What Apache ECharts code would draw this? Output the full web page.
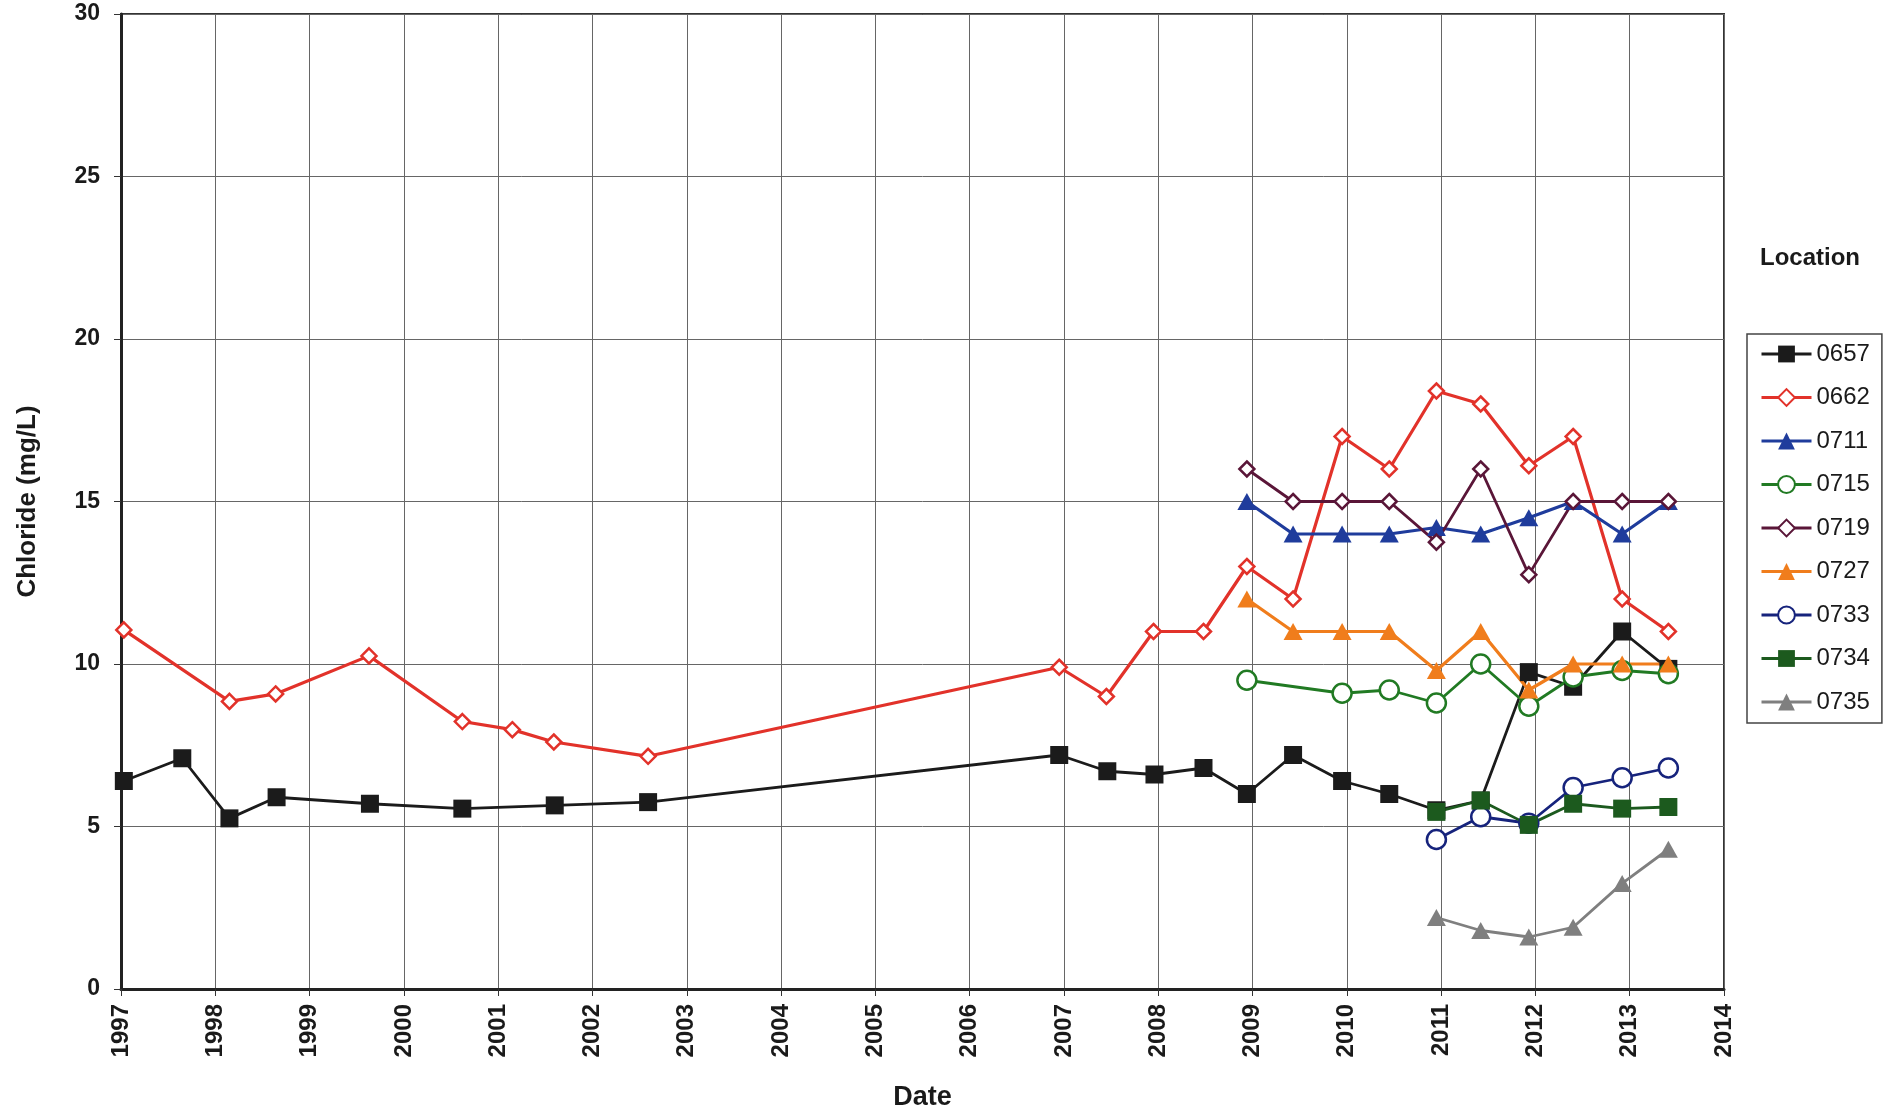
<!DOCTYPE html>
<html>
<head>
<meta charset="utf-8">
<script src="https://cdn.jsdelivr.net/npm/echarts@6/dist/echarts.min.js"></script>
<style>
html,body{margin:0;padding:0;background:#fff;}
#chart{width:1893px;height:1116px;}
</style>
</head>
<body>
<div id="chart"></div>
<script>
// ---- Data (decimal years, chloride mg/L) ----
const yTicks = [0, 5, 10, 15, 20, 25, 30];
const xYears = [1997,1998,1999,2000,2001,2002,2003,2004,2005,2006,2007,2008,2009,2010,2011,2012,2013,2014];

const dates0657 = [1997.03,1997.65,1998.15,1998.65,1999.64,2000.62,2001.60,2002.59,2006.95,2007.46,2007.96,2008.48,2008.94,2009.43,2009.95,2010.45,2010.95,2011.42,2011.93,2012.40,2012.92,2013.41];
const vals0657  = [6.4,7.1,5.25,5.9,5.7,5.55,5.65,5.75,7.2,6.7,6.6,6.8,6.0,7.2,6.4,6.0,5.5,5.8,9.75,9.3,11.0,9.85];

const dates0662 = [1997.03,1998.15,1998.64,1999.63,2000.62,2001.15,2001.59,2002.59,2006.95,2007.45,2007.95,2008.48,2008.94,2009.43,2009.95,2010.45,2010.95,2011.42,2011.93,2012.40,2012.92,2013.41];
const vals0662  = [11.05,8.85,9.08,10.25,8.23,7.98,7.6,7.16,9.9,9.0,11.0,11.0,13.0,12.0,17.0,16.0,18.4,18.0,16.1,17.0,12.0,11.0];

const datesLate = [2008.94,2009.43,2009.95,2010.45,2010.95,2011.42,2011.93,2012.40,2012.92,2013.41];
const vals0711  = [15,14,14,14,14.2,14,14.5,15,14,15];
const vals0719  = [16,15,15,15,13.75,16,12.75,15,15,15];
const vals0727  = [12,11,11,11,9.8,11,9.2,10,10,10];

const dates0715 = [2008.94,2009.95,2010.45,2010.95,2011.42,2011.93,2012.40,2012.92,2013.41];
const vals0715  = [9.5,9.1,9.2,8.8,10.0,8.7,9.6,9.8,9.7];

const datesRecent = [2010.95,2011.42,2011.93,2012.40,2012.92,2013.41];
const vals0733  = [4.6,5.3,5.1,6.2,6.5,6.8];
const vals0734  = [5.45,5.8,5.05,5.7,5.55,5.6];
const vals0735  = [2.2,1.8,1.6,1.9,3.25,4.3];

const seriesNames = ['0657','0662','0711','0715','0719','0727','0733','0734','0735'];

// ---- Styling ----
const FONT = 'Liberation Sans, Arial, Helvetica, sans-serif';
const styles = {
  '0657': {dates: dates0657, vals: vals0657, color:'#1b1b1b', symbol:'rect', size:18, hollow:false, lw:2.8},
  '0662': {dates: dates0662, vals: vals0662, color:'#e2322a', symbol:'diamond', size:15, hollow:true, lw:3.2},
  '0711': {dates: datesLate, vals: vals0711, color:'#1f3c9c', symbol:'triangle', size:[19,17], hollow:false, lw:3.2},
  '0715': {dates: dates0715, vals: vals0715, color:'#217a23', symbol:'circle', size:19, hollow:true, lw:2.8},
  '0719': {dates: datesLate, vals: vals0719, color:'#5a1638', symbol:'diamond', size:15, hollow:true, lw:2.8},
  '0727': {dates: datesLate, vals: vals0727, color:'#f07d1c', symbol:'triangle', size:[19,17], hollow:false, lw:3.2},
  '0733': {dates: datesRecent, vals: vals0733, color:'#16237c', symbol:'circle', size:19, hollow:true, lw:2.8},
  '0734': {dates: datesRecent, vals: vals0734, color:'#1c5a1e', symbol:'rect', size:18, hollow:false, lw:2.8},
  '0735': {dates: datesRecent, vals: vals0735, color:'#7f7f7f', symbol:'triangle', size:[19,17], hollow:false, lw:2.8}
};

const series = seriesNames.map(name => {
  const s = styles[name];
  return {
    name: name,
    type: 'line',
    data: s.dates.map((d, i) => [d, s.vals[i]]),
    symbol: s.symbol,
    symbolSize: s.size,
    showAllSymbol: true,
    lineStyle: {color: s.color, width: s.lw},
    itemStyle: s.hollow
      ? {color: '#ffffff', borderColor: s.color, borderWidth: 2.5}
      : {color: s.color, borderColor: s.color, borderWidth: 0},
    emphasis: {disabled: true},
    z: 2
  };
});

const chart = echarts.init(document.getElementById('chart'), null, {renderer: 'canvas'});
chart.setOption({
  animation: false,
  backgroundColor: '#ffffff',
  textStyle: {fontFamily: FONT},
  title: {
    text: 'Location',
    left: 1760,
    top: 246,
    padding: 0,
    textStyle: {fontFamily: FONT, fontSize: 24, fontWeight: 'bold', color: '#1a1a1a'}
  },
  grid: {
    left: 121, right: 169, top: 14, bottom: 125,
    show: true, borderColor: '#333', borderWidth: 2, backgroundColor: 'transparent'
  },
  legend: {
    data: seriesNames,
    orient: 'vertical',
    left: 1747,
    top: 334,
    padding: [8, 12, 9, 13],
    itemWidth: 50,
    itemHeight: 21,
    itemGap: 19.5,
    borderColor: '#444',
    borderWidth: 1.5,
    lineStyle: {width: 3},
    textStyle: {fontFamily: FONT, fontSize: 24, color: '#1a1a1a', lineHeight: 24}
  },
  xAxis: {
    type: 'value',
    min: xYears[0],
    max: xYears[xYears.length - 1],
    interval: 1,
    name: 'Date',
    nameLocation: 'middle',
    nameGap: 95,
    nameTextStyle: {fontFamily: FONT, fontSize: 27, fontWeight: 'bold', color: '#1a1a1a'},
    axisLine: {show: true, onZero: false, lineStyle: {color: '#222', width: 3}},
    axisTick: {show: true, length: 7, lineStyle: {color: '#333', width: 1}},
    axisLabel: {
      rotate: 90, margin: 15, fontFamily: FONT, fontSize: 24, fontWeight: 'bold', color: '#1a1a1a',
      formatter: v => String(Math.round(v))
    },
    splitLine: {show: true, lineStyle: {color: '#666', width: 1}}
  },
  yAxis: {
    type: 'value',
    min: yTicks[0],
    max: yTicks[yTicks.length - 1],
    interval: 5,
    name: 'Chloride (mg/L)',
    nameLocation: 'middle',
    nameGap: 80,
    nameTextStyle: {fontFamily: FONT, fontSize: 26, fontWeight: 'bold', color: '#1a1a1a'},
    axisLine: {show: true, lineStyle: {color: '#222', width: 3}},
    axisTick: {show: true, length: 7, lineStyle: {color: '#333', width: 1}},
    axisLabel: {margin: 21, fontFamily: FONT, fontSize: 23, fontWeight: 'bold', color: '#1a1a1a'},
    splitLine: {show: true, lineStyle: {color: '#666', width: 1}}
  },
  series: series
});
</script>
</body>
</html>
